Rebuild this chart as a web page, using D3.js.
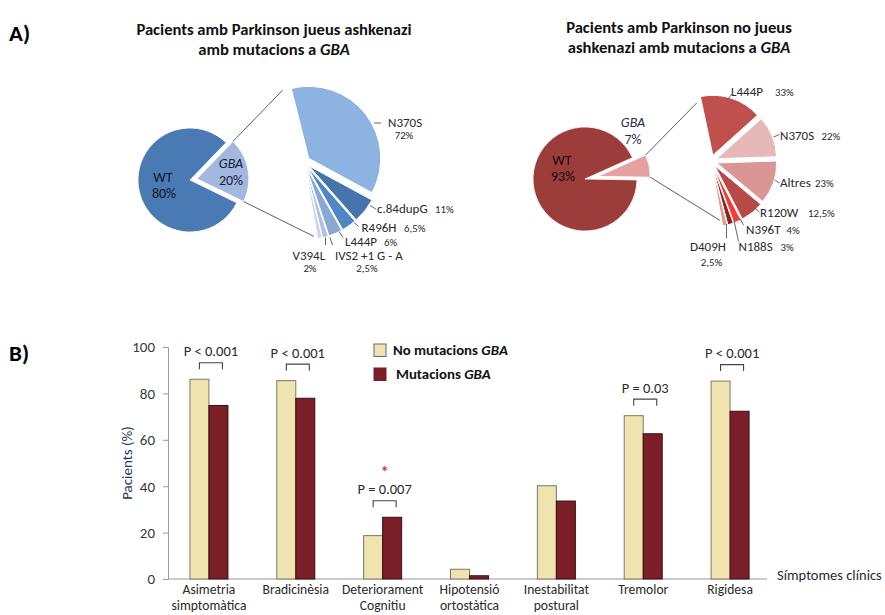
<!DOCTYPE html>
<html>
<head>
<meta charset="utf-8">
<script src="https://cdn.jsdelivr.net/npm/d3@7"></script>
<style>
  html, body { margin: 0; padding: 0; background: #fff; }
  svg { display: block; font-family: Carlito, Lato, "Open Sans", sans-serif; }
</style>
</head>
<body>
<svg id="fig" width="885" height="615"></svg>
<script>
// ---- Panel A: GBA mutation frequencies ----
const ashkMainLabels = ["WT", "GBA"];
const ashkMainValues = [80, 20];
const ashkMutLabels = ["N370S", "c.84dupG", "R496H", "L444P", "IVS2 +1 G - A", "V394L"];
const ashkMutValues = [72, 11, 6.5, 6, 2.5, 2];

const nonAshkMainLabels = ["WT", "GBA"];
const nonAshkMainValues = [93, 7];
const nonAshkMutLabels = ["L444P", "N370S", "Altres", "R120W", "N396T", "N188S", "D409H"];
const nonAshkMutValues = [33, 22, 23, 12.5, 4, 3, 2.5];

// ---- Panel B: clinical symptoms ----
const symptoms = ["Asimetria simptomàtica", "Bradicinèsia", "Deteriorament Cognitiu",
                  "Hipotensió ortostàtica", "Inestabilitat postural", "Tremolor", "Rigidesa"];
const noMutValues = [86.1, 85.5, 18.7, 4.2, 40.2, 70.4, 85.3];
const mutValues   = [74.8, 77.9, 26.6, 1.4, 33.6, 62.6, 72.3];
const pValueLabels = ["P < 0.001", "P < 0.001", "P = 0.007", null, null, "P = 0.03", "P < 0.001"];
const significantStar = [false, false, true, false, false, false, false];
const yTicks = [0, 20, 40, 60, 80, 100];
const seriesNames = ["No mutacions", "Mutacions"];

const svg = d3.select("#fig");
const deg = Math.PI / 180;
const pct = v => d3.formatLocale({decimal: ",", thousands: ".", grouping: [3], currency: ["", ""]})
                   .format("~r")(v) + "%";

// panel letters
svg.append("text").attr("x", 9).attr("y", 41).attr("font-size", 23).attr("font-weight", 700).text("A)");
svg.append("text").attr("x", 9).attr("y", 361).attr("font-size", 23).attr("font-weight", 700).text("B)");

// two-line bold title with italic gene name
function title(cx, y1, line1, line2a) {
  const t = svg.append("g").attr("font-weight", 700).attr("font-size", 16.6).attr("text-anchor", "middle").attr("fill", "#111");
  t.append("text").attr("x", cx).attr("y", y1).text(line1);
  const l2 = t.append("text").attr("x", cx).attr("y", y1 + 20);
  l2.append("tspan").text(line2a);
  l2.append("tspan").attr("font-style", "italic").text("GBA");
}
title(274, 35, "Pacients amb Parkinson jueus ashkenazi", "amb mutacions a ");
title(679, 33, "Pacients amb Parkinson no jueus", "ashkenazi amb mutacions a ");

function offsetOf(d, dist) {
  const a = (d.startAngle + d.endAngle) / 2;
  return [Math.sin(a) * dist, -Math.cos(a) * dist];
}
function polar(cx, cy, a, r) { return [cx + Math.sin(a) * r, cy - Math.cos(a) * r]; }

// Draws a main pie with its GBA slice pulled out, plus the breakdown fan of GBA mutations
function pieOfPie(cfg) {
  const g = svg.append("g");
  // main pie
  const mainArcs = d3.pie().sort(null).value(d => d)
    .startAngle(cfg.gbaEnd * deg).endAngle(cfg.gbaEnd * deg + 2 * Math.PI)(cfg.mainValues);
  const mainArc = d3.arc().innerRadius(0).outerRadius(cfg.r1);
  const gbaArc = mainArcs[1];
  const gOff = offsetOf(gbaArc, cfg.explode1);
  g.selectAll("path.main").data(mainArcs).join("path")
    .attr("class", "main")
    .attr("transform", (d, i) => {
      const o = i === 1 ? gOff : [0, 0];
      return `translate(${cfg.cx1 + o[0]},${cfg.cy1 + o[1]})`;
    })
    .attr("d", mainArc)
    .attr("fill", (d, i) => cfg.mainColors[i])
    .attr("stroke", "#fff").attr("stroke-width", 0.8);

  // breakdown fan
  const fan = d3.pie().sort(null).value(d => d)
    .startAngle(cfg.fanStart * deg).endAngle(cfg.fanEnd * deg)(cfg.mutValues);
  const fanArc = d3.arc().innerRadius(0).outerRadius(cfg.r2);
  g.selectAll("path.fan").data(fan).join("path")
    .attr("class", "fan")
    .attr("transform", d => {
      const o = offsetOf(d, cfg.explode2);
      return `translate(${cfg.cx2 + o[0]},${cfg.cy2 + o[1]})`;
    })
    .attr("d", fanArc)
    .attr("fill", (d, i) => cfg.mutColors[i])
    .attr("stroke", "#fff").attr("stroke-width", 1);

  // connector lines from the GBA slice to the fan
  const gx = cfg.cx1 + gOff[0], gy = cfg.cy1 + gOff[1];
  const p1 = polar(gx, gy, gbaArc.startAngle, cfg.r1);
  const p2 = polar(gx, gy, gbaArc.endAngle, cfg.r1);
  const q1 = polar(cfg.cx2, cfg.cy2, (cfg.fanStart - cfg.lineSpread) * deg, cfg.lineR);
  const q2 = polar(cfg.cx2, cfg.cy2, (cfg.fanEnd + cfg.lineSpread) * deg, cfg.lineR);
  g.append("line").attr("x1", p1[0]).attr("y1", p1[1]).attr("x2", q1[0]).attr("y2", q1[1])
    .attr("stroke", "#333").attr("stroke-width", 0.8);
  g.append("line").attr("x1", p2[0]).attr("y1", p2[1]).attr("x2", q2[0]).attr("y2", q2[1])
    .attr("stroke", "#333").attr("stroke-width", 0.8);

  // main pie labels
  const lab = g.append("g").attr("font-size", 14).attr("text-anchor", "middle");
  lab.append("text").attr("x", cfg.wtLabel[0]).attr("y", cfg.wtLabel[1]).attr("fill", cfg.wtInk).text(cfg.mainLabels[0]);
  lab.append("text").attr("x", cfg.wtLabel[0] + 1).attr("y", cfg.wtLabel[1] + 16).attr("fill", cfg.wtInk).text(pct(cfg.mainValues[0]));
  lab.append("text").attr("x", cfg.gbaLabel[0]).attr("y", cfg.gbaLabel[1]).attr("fill", cfg.gbaInk)
    .attr("font-style", "italic").text(cfg.mainLabels[1]);
  lab.append("text").attr("x", cfg.gbaLabel[0]).attr("y", cfg.gbaLabel[1] + 16.5).attr("fill", cfg.gbaInk).text(pct(cfg.mainValues[1]));

  // mutation labels with leaders
  cfg.mutLabels.forEach((name, i) => {
    const L = cfg.layout[name];
    g.append("line").attr("x1", L.lead[0]).attr("y1", L.lead[1]).attr("x2", L.lead[2]).attr("y2", L.lead[3])
      .attr("stroke", "#555").attr("stroke-width", 0.9);
    g.append("text").attr("x", L.name[0]).attr("y", L.name[1]).attr("font-size", 13).attr("fill", "#2a2a2a").text(name);
    g.append("text").attr("x", L.pct[0]).attr("y", L.pct[1]).attr("font-size", 10.8).attr("fill", "#2a2a2a")
      .attr("text-anchor", L.pctAnchor || "start").text(pct(cfg.mutValues[i]));
  });
}

pieOfPie({
  cx1: 190, cy1: 180, r1: 52, explode1: 7, gbaEnd: 116,
  mainValues: ashkMainValues, mainLabels: ashkMainLabels,
  mainColors: ["#4a7ab4", "#a2b8de"],
  cx2: 304, cy2: 162, r2: 72, explode2: 6, fanStart: -14, fanEnd: 170,
  lineSpread: 2.5, lineR: 75,
  mutValues: ashkMutValues, mutLabels: ashkMutLabels,
  mutColors: ["#8db3e2", "#4874ae", "#4f86c6", "#8ba7d3", "#adc1e3", "#c9d6eb"],
  wtLabel: [163, 182], wtInk: "#10131a", gbaLabel: [231, 168], gbaInk: "#16203a",
  layout: {
    "N370S":         {lead: [374, 123, 381, 123], name: [388, 127], pct: [404, 139], pctAnchor: "middle"},
    "c.84dupG":      {lead: [370, 205.5, 376, 209], name: [377, 212.5], pct: [435, 212.5]},
    "R496H":         {lead: [354, 222.5, 358.5, 226.5], name: [361.5, 231.5], pct: [404, 231.5]},
    "L444P":         {lead: [339, 231.5, 343, 237.5], name: [345, 245.5], pct: [384, 245.5]},
    "IVS2 +1 G - A": {lead: [330, 237.5, 332.5, 245], name: [335, 259.5], pct: [367, 272], pctAnchor: "middle"},
    "V394L":         {lead: [325.5, 237.5, 325.5, 245], name: [292.5, 259.5], pct: [310, 272], pctAnchor: "middle"}
  }
});

pieOfPie({
  cx1: 585, cy1: 179, r1: 52, explode1: 13.5, gbaEnd: 91,
  mainValues: nonAshkMainValues, mainLabels: nonAshkMainLabels,
  mainColors: ["#9c3c3b", "#e6a09f"],
  cx2: 711, cy2: 161, r2: 60, explode2: 6, fanStart: -12, fanEnd: 170,
  lineSpread: 1.5, lineR: 60,
  mutValues: nonAshkMutValues, mutLabels: nonAshkMutLabels,
  mutColors: ["#c0504d", "#e6b9b8", "#d99694", "#b64a47", "#f43c3a", "#93211f", "#d5a48b"],
  wtLabel: [562, 164.5], wtInk: "#16090a", gbaLabel: [633, 127], gbaInk: "#1f3050",
  layout: {
    "L444P":  {lead: [727, 100, 732, 94], name: [731, 96], pct: [775, 96]},
    "N370S":  {lead: [773.5, 137, 779.5, 134.5], name: [780, 140], pct: [821.5, 140]},
    "Altres": {lead: [775, 180, 779.5, 183], name: [780, 187], pct: [815, 187]},
    "R120W":  {lead: [755, 208.5, 759.5, 212], name: [760, 216.5], pct: [808, 216.5]},
    "N396T":  {lead: [740, 218.5, 743.5, 225], name: [746, 234], pct: [786.5, 234]},
    "N188S":  {lead: [734, 220.5, 738.5, 241.5], name: [738.5, 250.5], pct: [780.5, 250.5]},
    "D409H":  {lead: [726.5, 224, 726.5, 238.5], name: [690, 250.5], pct: [711.5, 265.5], pctAnchor: "middle"}
  }
});

// ---- Panel B: grouped bar chart ----
const y = d3.scaleLinear().domain([0, 100]).range([579, 347]);
const x = d3.scalePoint().domain(symptoms).range([165.5, 773.5]).padding(0.5);
const xs = d3.scaleBand().domain(seriesNames).range([-19, 19]);
const barFill = ["#efe3b0", "#7a1f27"];
const barStroke = ["#7d7866", "#3a0d11"];

const yAxis = svg.append("g").attr("transform", "translate(168,0)")
  .call(d3.axisLeft(y).tickValues(yTicks).tickSize(5).tickPadding(8));
yAxis.select(".domain").attr("stroke", "#9a9a9a");
yAxis.selectAll(".tick line").attr("stroke", "#9a9a9a");
yAxis.selectAll(".tick text").attr("font-size", 15).attr("fill", "#3a3a3a").attr("font-family", "Carlito, Lato, sans-serif");

svg.append("line").attr("x1", 168).attr("x2", 767).attr("y1", y(0)).attr("y2", y(0))
  .attr("stroke", "#9a9a9a").attr("stroke-width", 1.2);

svg.append("text").attr("transform", `translate(132,${(y(0) + y(100)) / 2}) rotate(-90)`)
  .attr("text-anchor", "middle").attr("font-size", 15).attr("fill", "#23395a").text("Pacients (%)");

svg.append("text").attr("x", 777).attr("y", 580).attr("font-size", 14.5).attr("fill", "#2a2a2a").text("Símptomes clínics");

const groups = svg.append("g").selectAll("g").data(symptoms).join("g")
  .attr("transform", d => `translate(${x(d)},0)`);
groups.selectAll("rect").data((d, i) => [noMutValues[i], mutValues[i]]).join("rect")
  .attr("x", (v, j) => xs(seriesNames[j]))
  .attr("width", xs.bandwidth())
  .attr("y", v => y(v))
  .attr("height", v => y(0) - y(v))
  .attr("fill", (v, j) => barFill[j])
  .attr("stroke", (v, j) => barStroke[j]).attr("stroke-width", 1);

// category labels (two lines where needed)
groups.append("text").attr("text-anchor", "middle").attr("font-size", 13.6).attr("fill", "#2a2a2a")
  .each(function (d) {
    const words = d.split(" ");
    const t = d3.select(this);
    words.forEach((w, k) => t.append("tspan").attr("x", 0).attr("y", 593.5 + k * 16.4).text(w));
  });

// significance brackets
symptoms.forEach((s, i) => {
  if (!pValueLabels[i]) return;
  const top = y(Math.max(noMutValues[i], mutValues[i])) - 10;
  const cx = x(s) + 2;
  svg.append("path")
    .attr("d", `M${cx - 11.5},${top} V${top - 6.5} H${cx + 11.5} V${top}`)
    .attr("fill", "none").attr("stroke", "#444").attr("stroke-width", 1.1);
  svg.append("text").attr("x", cx).attr("y", top - 13).attr("text-anchor", "middle")
    .attr("font-size", 14.5).attr("fill", "#2a2a2a").text(pValueLabels[i]);
  if (significantStar[i]) {
    svg.append("text").attr("x", cx).attr("y", top - 30).attr("text-anchor", "middle")
      .attr("font-size", 16).attr("font-weight", 700).attr("fill", "#e23b3b").text("*");
  }
});

// legend
const legend = svg.append("g").attr("font-weight", 700).attr("font-size", 14.8).attr("fill", "#111");
seriesNames.forEach((n, i) => {
  const ly = 344 + i * 24;
  legend.append("rect").attr("x", 374).attr("y", ly).attr("width", 12).attr("height", 12.5)
    .attr("fill", barFill[i]).attr("stroke", i === 0 ? "#6a6a6a" : barFill[i]);
  const t = legend.append("text").attr("x", i === 0 ? 393 : 396).attr("y", ly + 11);
  t.append("tspan").text(n + " ");
  t.append("tspan").attr("font-style", "italic").text("GBA");
});
</script>
</body>
</html>
